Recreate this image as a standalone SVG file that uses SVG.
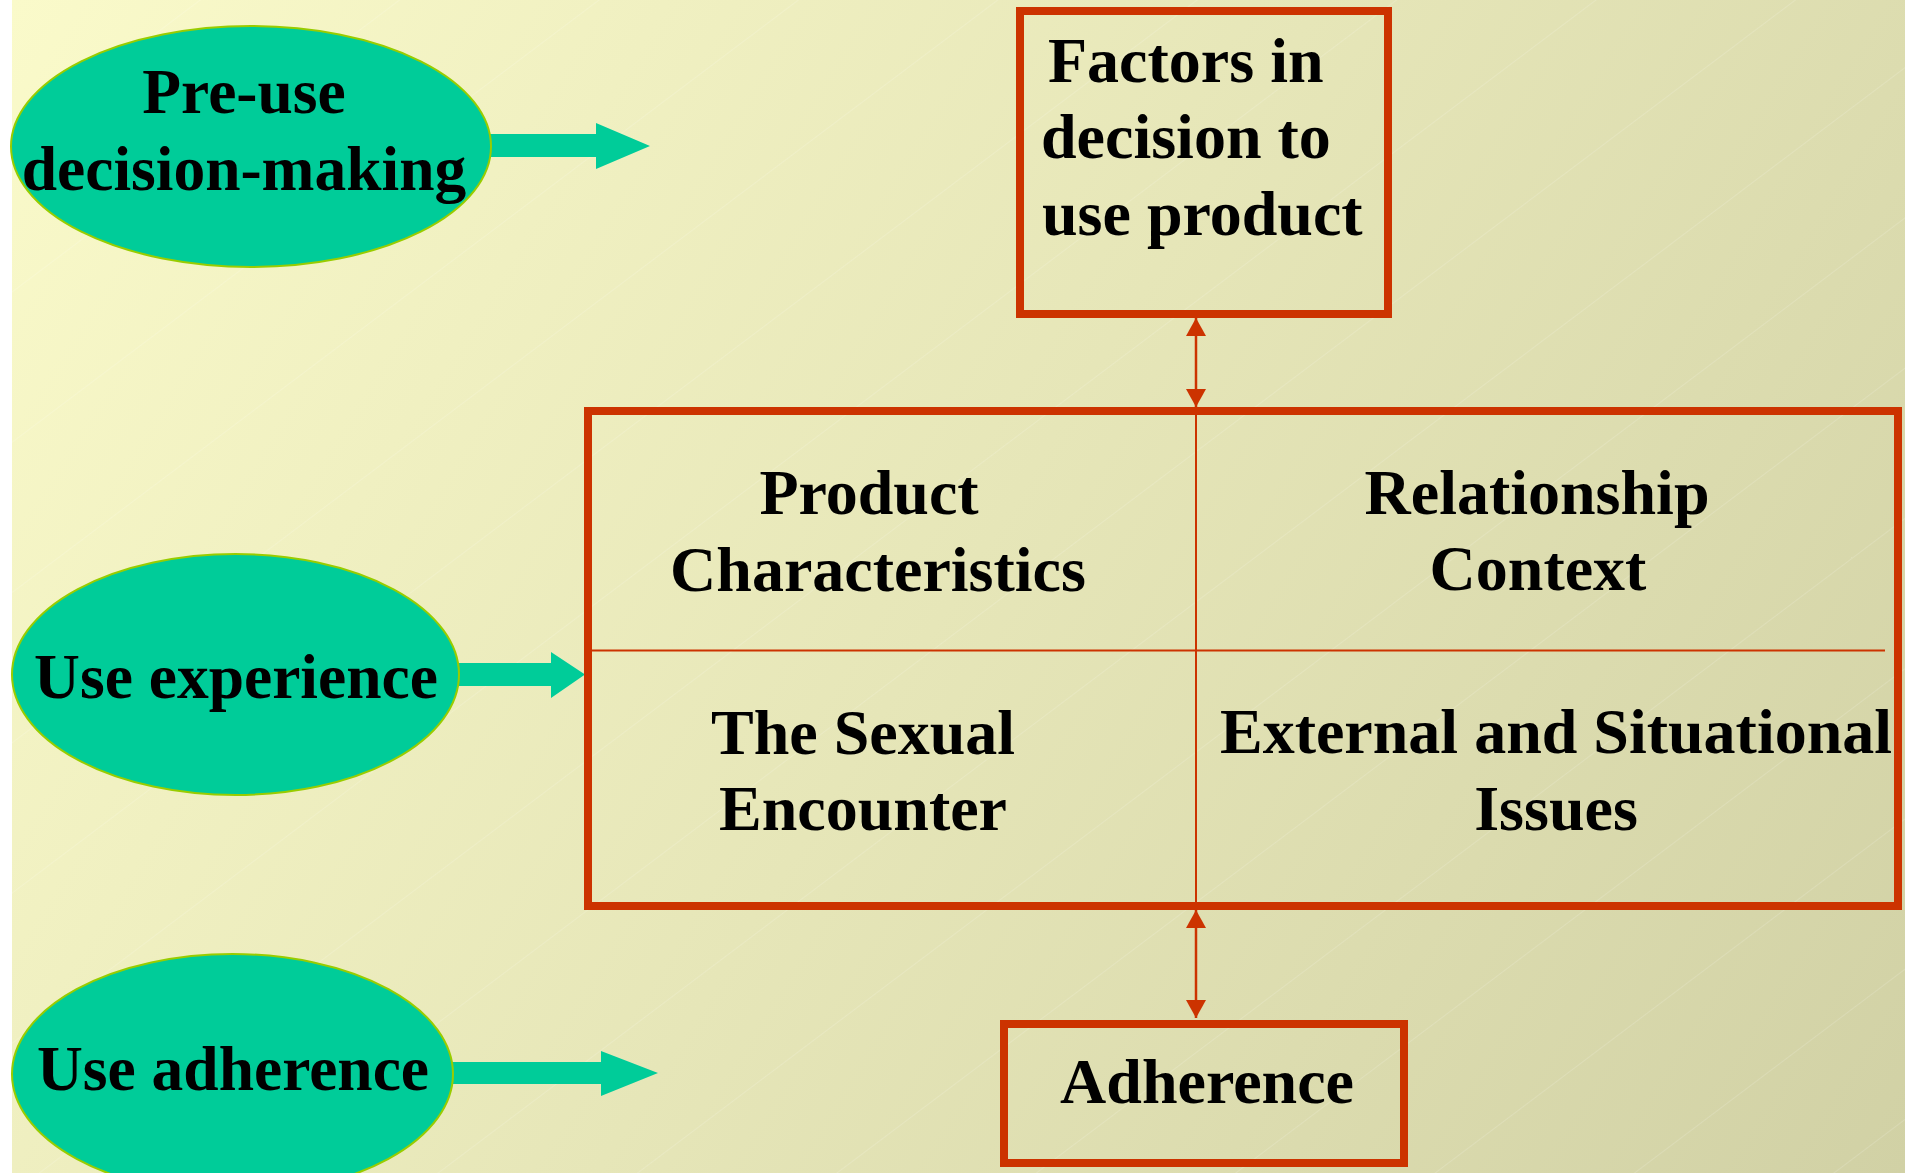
<svg xmlns="http://www.w3.org/2000/svg" width="1905" height="1173" viewBox="0 0 1905 1173">
<defs>
<linearGradient id="bg" gradientUnits="userSpaceOnUse" x1="12" y1="0" x2="1905" y2="1173">
<stop offset="0" stop-color="#FAFACA"/>
<stop offset="0.5" stop-color="#E6E6B8"/>
<stop offset="1" stop-color="#D1D1A5"/>
</linearGradient>
<pattern id="tex" patternUnits="userSpaceOnUse" width="120" height="120" patternTransform="rotate(-37)">
<line x1="0" y1="0" x2="120" y2="0" stroke="#FFFFFF" stroke-opacity="0.3" stroke-width="1"/>
</pattern>
<marker id="ah" markerUnits="userSpaceOnUse" viewBox="0 0 18 20" refX="18" refY="10" markerWidth="18" markerHeight="20" orient="auto-start-reverse">
<path d="M0,0 L18,10 L0,20 Z" fill="#CC3300"/>
</marker>
<style>
.box{fill:none;stroke:#CC3300;stroke-width:8}
.div{stroke:#CC3300;stroke-width:2}
.oval{fill:#00CC99;stroke:#99CC00;stroke-width:2}
.garrow{fill:#00CC99}
.conn{stroke:#CC3300;stroke-width:2.5;fill:none}
text{font-family:"Liberation Serif","Times New Roman",serif;font-weight:bold;fill:#000000}
.t64{font-size:64px}
.t63{font-size:63.5px}
.mid{text-anchor:middle}
</style>
</defs>
<rect x="0" y="0" width="1905" height="1173" fill="#FFFFFF"/>
<rect x="12" y="0" width="1893" height="1173" fill="url(#bg)"/>
<rect x="12" y="0" width="1893" height="1173" fill="url(#tex)"/>

<g id="connectors">
<polygon class="garrow" points="470,134 596,134 596,123 650,146 596,169 596,157 470,157"/>
<polygon class="garrow" points="445,663 551,663 551,652 585,674.5 551,698 551,686 445,686"/>
<polygon class="garrow" points="440,1062 601,1062 601,1051 658,1073 601,1096 601,1084 440,1084"/>
<line class="conn" x1="1196" y1="318" x2="1196" y2="407" marker-start="url(#ah)" marker-end="url(#ah)"/>
<line class="conn" x1="1196" y1="910" x2="1196" y2="1018" marker-start="url(#ah)" marker-end="url(#ah)"/>
</g>

<g id="pre-use">
<ellipse class="oval" cx="251" cy="146.5" rx="240" ry="120.5"/>
<text class="t63 mid" x="244" y="113">Pre-use</text>
<text class="t63 mid" x="244" y="190">decision-making</text>
</g>

<g id="use-experience">
<ellipse class="oval" cx="235.5" cy="674.5" rx="223.5" ry="120.5"/>
<text class="t63 mid" x="236" y="698">Use experience</text>
</g>

<g id="use-adherence">
<ellipse class="oval" cx="232.5" cy="1074" rx="220.5" ry="120"/>
<text class="t63 mid" x="233" y="1090">Use adherence</text>
</g>

<g id="factors">
<rect class="box" x="1020" y="11" width="368" height="303"/>
<text class="t64" x="1048" y="82">Factors in</text>
<text class="t64" x="1041" y="158">decision to</text>
<text class="t64" x="1042" y="235">use product</text>
</g>

<g id="factor-grid">
<rect class="box" x="588" y="411" width="1310" height="495"/>
<line class="div" x1="592" y1="650.5" x2="1885" y2="650.5"/>
<line class="div" x1="1196" y1="411" x2="1196" y2="906"/>
</g>

<g id="product-characteristics">
<text class="t64 mid" x="869" y="514">Product</text>
<text class="t64 mid" x="878" y="591">Characteristics</text>
</g>

<g id="relationship-context">
<text class="t64 mid" x="1537" y="514">Relationship</text>
<text class="t64 mid" x="1538" y="590">Context</text>
</g>

<g id="sexual-encounter">
<text class="t64 mid" x="863" y="754">The Sexual</text>
<text class="t64 mid" x="863" y="830">Encounter</text>
</g>

<g id="external-situational">
<text class="t64 mid" x="1556" y="753">External and Situational</text>
<text class="t64 mid" x="1556" y="830">Issues</text>
</g>

<g id="adherence">
<rect class="box" x="1004" y="1024" width="400" height="139"/>
<text class="t64 mid" x="1207" y="1103">Adherence</text>
</g>
</svg>
